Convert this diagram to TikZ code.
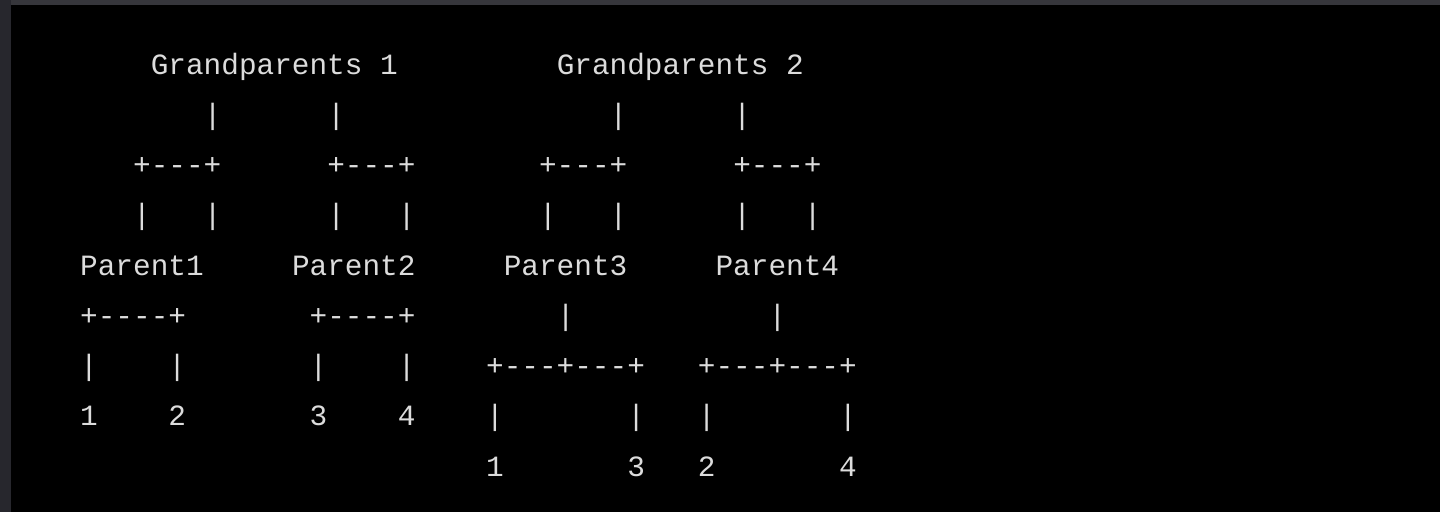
\documentclass[tikz,border=0pt]{standalone}
\usepackage{fontspec}
\setmonofont{Liberation Mono}
\definecolor{termbg}{HTML}{000000}
\definecolor{termfg}{HTML}{DCDCDC}
\definecolor{leftbar}{HTML}{27272D}
\definecolor{topbar}{HTML}{36363B}
\tikzset{txt/.style={anchor=base west,inner sep=0pt,outer sep=0pt,text=termfg,font=\ttfamily\fontsize{29.4}{30}\selectfont}}
\newcommand\tok[4]{\node[txt] (#1) at ({80.2+#2*17.65},{74+#3*50.25}) {#4};}
\begin{document}
\begin{tikzpicture}[x=1pt,y=-1pt]
\useasboundingbox (0,0) rectangle (1440,512);
\fill[termbg] (0,0) rectangle (1440,512);
\fill[leftbar] (0,0) rectangle (11,512);
\fill[topbar] (11,0) rectangle (1440,5);
% row 0
\tok{gp1}{4}{0}{Grandparents 1}
\tok{gp2}{27}{0}{Grandparents 2}
% row 1
\tok{va}{7}{1}{|}
\tok{vb}{14}{1}{|}
\tok{vc}{30}{1}{|}
\tok{vd}{37}{1}{|}
% row 2
\tok{ha}{3}{2}{+---+}
\tok{hb}{14}{2}{+---+}
\tok{hc}{26}{2}{+---+}
\tok{hd}{37}{2}{+---+}
% row 3
\tok{wa}{3}{3}{|}
\tok{wb}{7}{3}{|}
\tok{wc}{14}{3}{|}
\tok{wd}{18}{3}{|}
\tok{we}{26}{3}{|}
\tok{wf}{30}{3}{|}
\tok{wg}{37}{3}{|}
\tok{wh}{41}{3}{|}
% row 4
\tok{p1}{0}{4}{Parent1}
\tok{p2}{12}{4}{Parent2}
\tok{p3}{24}{4}{Parent3}
\tok{p4}{36}{4}{Parent4}
% row 5
\tok{ka}{0}{5}{+----+}
\tok{kb}{13}{5}{+----+}
\tok{kc}{27}{5}{|}
\tok{kd}{39}{5}{|}
% row 6
\tok{ma}{0}{6}{|}
\tok{mb}{5}{6}{|}
\tok{mc}{13}{6}{|}
\tok{md}{18}{6}{|}
\tok{me}{23}{6}{+---+---+}
\tok{mf}{35}{6}{+---+---+}
% row 7
\tok{c1}{0}{7}{1}
\tok{c2}{5}{7}{2}
\tok{c3}{13}{7}{3}
\tok{c4}{18}{7}{4}
\tok{na}{23}{7}{|}
\tok{nb}{31}{7}{|}
\tok{nc}{35}{7}{|}
\tok{nd}{43}{7}{|}
% row 8
\tok{d1}{23}{8}{1}
\tok{d3}{31}{8}{3}
\tok{d2}{35}{8}{2}
\tok{d4}{43}{8}{4}
\end{tikzpicture}
\end{document}
